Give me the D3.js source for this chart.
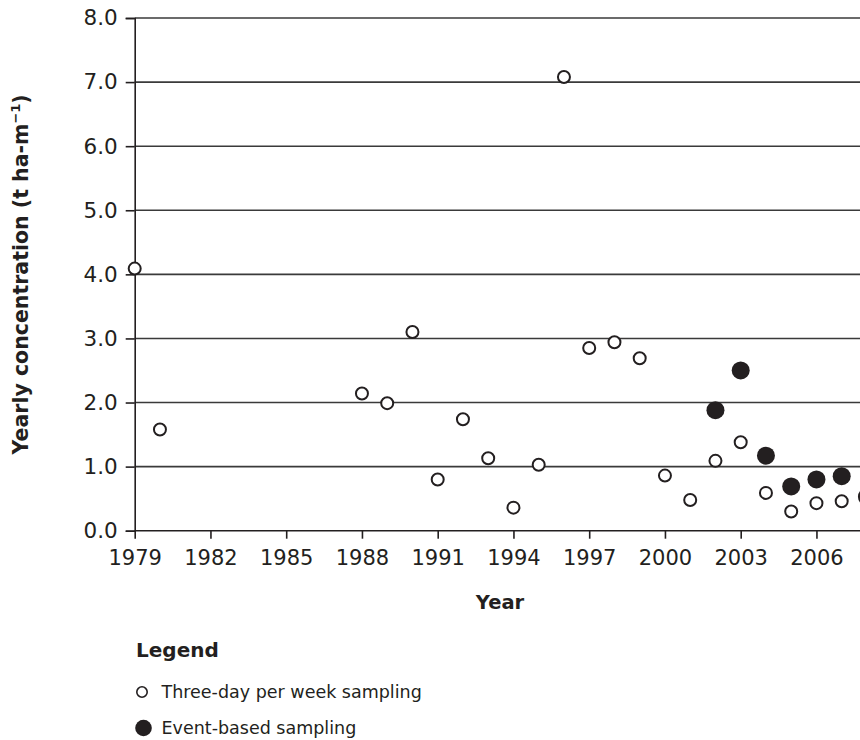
<!DOCTYPE html>
<html>
<head>
<meta charset="utf-8">
<script src="https://cdn.jsdelivr.net/npm/d3@7"></script>
<style>
  html, body { margin: 0; padding: 0; background: #fff; }
  svg { display: block; }
  text { font-family: "DejaVu Sans", sans-serif; fill: #231f20; }
</style>
</head>
<body>
<script>
// Yearly concentration, three-day-per-week sampling
const weeklyYears  = [1979, 1980, 1988, 1989, 1990, 1991, 1992, 1993, 1994, 1995, 1996, 1997, 1998, 1999, 2000, 2001, 2002, 2003, 2004, 2005, 2006, 2007];
const weeklyValues = [4.09, 1.58, 2.14, 1.99, 3.10, 0.80, 1.74, 1.13, 0.36, 1.03, 7.08, 2.85, 2.94, 2.69, 0.86, 0.48, 1.09, 1.38, 0.59, 0.30, 0.43, 0.46];

// Yearly concentration, event-based sampling
const eventYears  = [2002, 2003, 2004, 2005, 2006, 2007, 2008];
const eventValues = [1.88, 2.50, 1.17, 0.69, 0.80, 0.85, 0.53];

// Axis ticks
const yearTicks = [1979, 1982, 1985, 1988, 1991, 1994, 1997, 2000, 2003, 2006];
const concTicks = [0, 1, 2, 3, 4, 5, 6, 7, 8];

const legendItems = ["Three-day per week sampling", "Event-based sampling"];

const W = 860, H = 740;
const svg = d3.select("body").append("svg").attr("width", W).attr("height", H);

const x = d3.scaleLinear().domain([1979, 2008]).range([134.7, 134.7 + 29 * 25.25]);
const y = d3.scaleLinear().domain([0, 8]).range([530.7, 18]);

// Horizontal grid lines
svg.append("g")
  .selectAll("line")
  .data(concTicks.filter(d => d > 0))
  .join("line")
  .attr("x1", x(1979)).attr("x2", W + 10)
  .attr("y1", d => y(d)).attr("y2", d => y(d))
  .attr("stroke", "#3a3a3a").attr("stroke-width", 1.6);

// Y axis
const yAxis = svg.append("g")
  .attr("transform", `translate(${x(1979)},0)`)
  .call(d3.axisLeft(y).tickValues(concTicks).tickFormat(d3.format(".1f")).tickSize(9).tickPadding(8));
yAxis.select(".domain").attr("stroke", "#231f20").attr("stroke-width", 1.6);
yAxis.selectAll(".tick line").attr("stroke", "#231f20").attr("stroke-width", 1.6);
yAxis.selectAll(".tick text").attr("font-size", 21.5).attr("font-family", "DejaVu Sans").attr("fill", "#231f20");

// X axis
const xAxis = svg.append("g")
  .attr("transform", `translate(0,${y(0)})`)
  .call(d3.axisBottom(x).tickValues(yearTicks).tickFormat(d3.format("d")).tickSize(8).tickPadding(11));
xAxis.select(".domain").attr("d", `M${x(1979)},0H${W + 10}`).attr("stroke", "#231f20").attr("stroke-width", 1.6);
xAxis.selectAll(".tick line").attr("stroke", "#231f20").attr("stroke-width", 1.6);
xAxis.selectAll(".tick text").attr("font-size", 21).attr("font-family", "DejaVu Sans").attr("fill", "#231f20");

// Axis titles
svg.append("text")
  .attr("x", 500).attr("y", 609)
  .attr("text-anchor", "middle")
  .attr("font-size", 19.5).attr("font-weight", "bold")
  .text("Year");

const yTitle = svg.append("text")
  .attr("transform", `translate(28,${(y(0) + y(8)) / 2}) rotate(-90)`)
  .attr("text-anchor", "middle")
  .attr("font-size", 20.5).attr("font-weight", "bold");
yTitle.append("tspan").text("Yearly concentration (t ha-m");
yTitle.append("tspan").attr("font-size", 13).attr("dy", -8).text("\u22121");
yTitle.append("tspan").attr("dy", 8).text(")");

// Data points
svg.append("g")
  .selectAll("circle")
  .data(weeklyYears.map((yr, i) => [yr, weeklyValues[i]]))
  .join("circle")
  .attr("cx", d => x(d[0])).attr("cy", d => y(d[1]))
  .attr("r", 6)
  .attr("fill", "#fff").attr("stroke", "#231f20").attr("stroke-width", 2);

svg.append("g")
  .selectAll("circle")
  .data(eventYears.map((yr, i) => [yr, eventValues[i]]))
  .join("circle")
  .attr("cx", d => x(d[0])).attr("cy", d => y(d[1]))
  .attr("r", 9)
  .attr("fill", "#231f20");

// Legend
svg.append("text")
  .attr("x", 136).attr("y", 657)
  .attr("font-size", 20).attr("font-weight", "bold")
  .text("Legend");

const legend = svg.append("g");
legend.append("circle").attr("cx", 142).attr("cy", 692).attr("r", 5.2)
  .attr("fill", "#fff").attr("stroke", "#231f20").attr("stroke-width", 1.6);
legend.append("circle").attr("cx", 143.5).attr("cy", 728).attr("r", 8.3)
  .attr("fill", "#231f20");
legend.selectAll("text")
  .data(legendItems)
  .join("text")
  .attr("x", 161.5)
  .attr("y", (d, i) => [698, 734][i])
  .attr("font-size", 17.5)
  .text(d => d);
</script>
</body>
</html>
